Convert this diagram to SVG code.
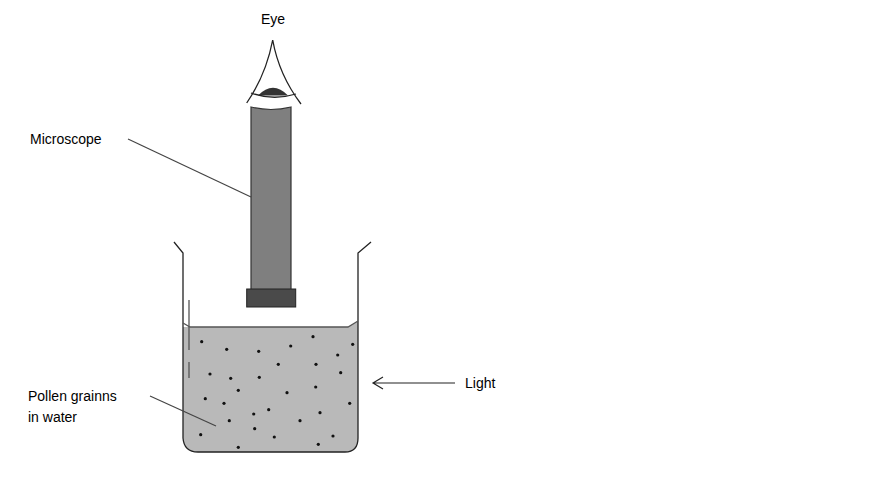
<svg xmlns="http://www.w3.org/2000/svg" width="891" height="490" viewBox="0 0 891 490">
<style>
text{font-family:"Liberation Sans",Arial,sans-serif;font-size:14px;fill:#000}
.ln{fill:none;stroke:#222;stroke-width:1.3}
.dot{fill:#111}
</style>
<rect width="891" height="490" fill="#fff"/>
<g id="beaker">
<path d="M183,327 L183,438 Q184,452 198,452 L345,452 Q358,452 358,438 L358,321 L348,327 Z" fill="#b9b9b9"/>
<path class="ln" d="M174,242 L183,253 L183,438 Q184,452 198,452 L345,452 Q358,452 358,438 L358,253 L371,242"/>
<path d="M183,323 L190,327 L348,327 L358,321" fill="none" stroke="#555" stroke-width="1.3"/>
<path d="M189,300 L189,350 M189,362 L189,378" stroke="#555" stroke-width="1.3"/>
<g class="dot">
<circle cx="201.7" cy="341.7" r="1.6"/><circle cx="226.7" cy="349.3" r="1.6"/><circle cx="258.7" cy="351.3" r="1.6"/><circle cx="290.7" cy="346" r="1.6"/><circle cx="313" cy="336.7" r="1.6"/><circle cx="352.7" cy="344.3" r="1.6"/><circle cx="337.7" cy="355" r="1.6"/><circle cx="278.3" cy="364.3" r="1.6"/><circle cx="316" cy="364.3" r="1.6"/><circle cx="210" cy="374" r="1.6"/><circle cx="230.7" cy="378.3" r="1.6"/><circle cx="259.3" cy="377.3" r="1.6"/><circle cx="340.7" cy="372.7" r="1.6"/><circle cx="238.3" cy="390.3" r="1.6"/><circle cx="315.7" cy="387" r="1.6"/><circle cx="287" cy="392.7" r="1.6"/><circle cx="205.3" cy="398.7" r="1.6"/><circle cx="224" cy="403.3" r="1.6"/><circle cx="349.7" cy="403.3" r="1.6"/><circle cx="268.7" cy="409.7" r="1.6"/><circle cx="253.7" cy="414" r="1.6"/><circle cx="320" cy="412.7" r="1.6"/><circle cx="229.3" cy="420.7" r="1.6"/><circle cx="300" cy="420.7" r="1.6"/><circle cx="254.7" cy="428.7" r="1.6"/><circle cx="200.7" cy="434.7" r="1.6"/><circle cx="274.3" cy="437" r="1.6"/><circle cx="333" cy="436" r="1.6"/><circle cx="318.3" cy="444.3" r="1.6"/><circle cx="238.3" cy="447.3" r="1.6"/>
</g>
</g>
<g id="microscope">
<path d="M251,107 Q271,112 291,107 L291,290 L251,290 Z" fill="#7f7f7f" stroke="#333" stroke-width="1.2"/>
<rect x="246.7" y="289" width="49" height="18" fill="#4a4a4a" stroke="#222" stroke-width="1"/>
</g>
<g id="eye">
<path class="ln" d="M246.7,103 Q266,75 272.7,40 Q279,75 301,104"/>
<path d="M258,95.5 Q273,80 288,95.5 Z" fill="#333"/>
<path class="ln" d="M251,93 Q273,101 296,94"/>
<text x="273" y="24" text-anchor="middle">Eye</text>
</g>
<g id="connectors">
<line x1="128" y1="139" x2="251" y2="197" stroke="#444" stroke-width="1.2"/>
<line x1="150" y1="396" x2="216" y2="426" stroke="#444" stroke-width="1.2"/>
<path d="M455,383 L373,383 M383,377 L373,383 L383,389" fill="none" stroke="#222" stroke-width="1.2"/>
</g>
<g id="labels">
<text x="30" y="144">Microscope</text>
<text x="28" y="401">Pollen grainns</text>
<text x="28" y="422">in water</text>
<text x="465" y="388">Light</text>
</g>
</svg>
